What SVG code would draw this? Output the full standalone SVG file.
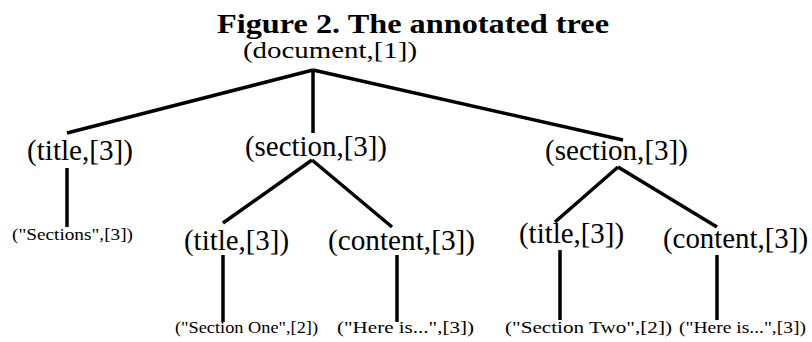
<svg xmlns="http://www.w3.org/2000/svg" width="812" height="342" viewBox="0 0 812 342">
<style>
text{font-family:"Liberation Serif","Times New Roman",serif;fill:#000}
.t{font-weight:bold;font-size:28px}
.d{font-size:24px}
.n{font-size:29px}
.l{font-size:17px}
.e{stroke:#000;stroke-width:3.5;fill:none;stroke-linecap:butt}
</style>
<rect width="812" height="342" fill="#fff"/>
<text class="t" x="217" y="33" textLength="392" lengthAdjust="spacingAndGlyphs">Figure 2. The annotated tree</text>
<g id="connectors">
<line class="e" x1="313" y1="70" x2="67" y2="133"/>
<line class="e" x1="313" y1="70" x2="313" y2="133"/>
<line class="e" x1="313" y1="70" x2="623" y2="140"/>
<line class="e" x1="67" y1="168" x2="67" y2="227"/>
<line class="e" x1="312" y1="160" x2="223" y2="223"/>
<line class="e" x1="312" y1="160" x2="392" y2="227"/>
<line class="e" x1="618" y1="167" x2="555" y2="222"/>
<line class="e" x1="618" y1="167" x2="717" y2="227"/>
<line class="e" x1="223" y1="255" x2="223" y2="322"/>
<line class="e" x1="397" y1="255" x2="397" y2="322"/>
<line class="e" x1="560" y1="250" x2="560" y2="320"/>
<line class="e" x1="717" y1="255" x2="717" y2="320"/>
</g>
<g id="document"><text class="d" x="243" y="58" textLength="174" lengthAdjust="spacingAndGlyphs">(document,[1])</text></g>
<g id="title1"><text class="n" x="27" y="160" textLength="106" lengthAdjust="spacingAndGlyphs">(title,[3])</text></g>
<g id="section1"><text class="n" x="245" y="156" textLength="142" lengthAdjust="spacingAndGlyphs">(section,[3])</text></g>
<g id="section2"><text class="n" x="545" y="160" textLength="143" lengthAdjust="spacingAndGlyphs">(section,[3])</text></g>
<g id="leaf-sections"><text class="l" x="12" y="240" textLength="121" lengthAdjust="spacingAndGlyphs">("Sections",[3])</text></g>
<g id="title2"><text class="n" x="184" y="250" textLength="105" lengthAdjust="spacingAndGlyphs">(title,[3])</text></g>
<g id="content1"><text class="n" x="328" y="250" textLength="147" lengthAdjust="spacingAndGlyphs">(content,[3])</text></g>
<g id="title3"><text class="n" x="519" y="243" textLength="105" lengthAdjust="spacingAndGlyphs">(title,[3])</text></g>
<g id="content2"><text class="n" x="663" y="248" textLength="145" lengthAdjust="spacingAndGlyphs">(content,[3])</text></g>
<g id="leaf-section-one"><text class="l" x="175" y="333" textLength="143" lengthAdjust="spacingAndGlyphs">("Section One",[2])</text></g>
<g id="leaf-here1"><text class="l" x="337" y="333" textLength="137" lengthAdjust="spacingAndGlyphs">("Here is...",[3])</text></g>
<g id="leaf-section-two"><text class="l" x="505" y="333" textLength="167" lengthAdjust="spacingAndGlyphs">("Section Two",[2])</text></g>
<g id="leaf-here2"><text class="l" x="679" y="333" textLength="127" lengthAdjust="spacingAndGlyphs">("Here is...",[3])</text></g>
</svg>
